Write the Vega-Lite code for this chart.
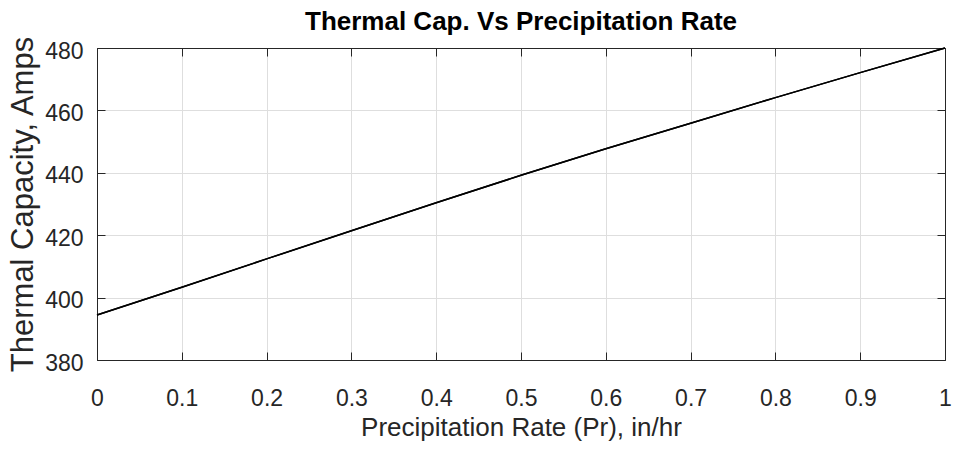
{
  "$schema": "https://vega.github.io/schema/vega-lite/v6.json",
  "width": 848,
  "height": 312,
  "autosize": {"type": "none"},
  "padding": {"left": 97, "top": 48, "right": 9, "bottom": 102},
  "background": "white",
  "title": {
    "text": "Thermal Cap. Vs Precipitation Rate",
    "font": "Liberation Sans, Arial",
    "fontSize": 26,
    "fontWeight": "bold",
    "color": "#000000",
    "anchor": "middle",
    "frame": "group",
    "offset": 0
  },
  "config": {
    "view": {"stroke": "#262626", "strokeWidth": 1},
    "axis": {
      "labelFont": "Liberation Sans, Arial",
      "labelFontSize": 23,
      "labelColor": "#262626",
      "titleFont": "Liberation Sans, Arial",
      "titleFontWeight": "normal",
      "titleColor": "#262626",
      "domainColor": "#262626",
      "domainWidth": 1,
      "tickColor": "#262626",
      "tickWidth": 1,
      "tickSize": -8,
      "gridColor": "#dedede",
      "gridWidth": 1
    }
  },
  "data": {
    "values": [
      {"rate": 0.0, "cap": 394.4},
      {"rate": 0.1, "cap": 403.3},
      {"rate": 0.2, "cap": 412.4},
      {"rate": 0.3, "cap": 421.4},
      {"rate": 0.4, "cap": 430.4},
      {"rate": 0.5, "cap": 439.2},
      {"rate": 0.6, "cap": 447.7},
      {"rate": 0.7, "cap": 455.9},
      {"rate": 0.8, "cap": 464.1},
      {"rate": 0.9, "cap": 472.1},
      {"rate": 1.0, "cap": 480.0}
    ]
  },
  "layer": [
    {
      "mark": {"type": "line", "color": "#000000", "strokeWidth": 1.5},
      "encoding": {
        "x": {
          "field": "rate", "type": "quantitative",
          "scale": {"domain": [0, 1], "nice": false},
          "axis": {
            "values": [0, 0.1, 0.2, 0.3, 0.4, 0.5, 0.6, 0.7, 0.8, 0.9, 1],
            "format": "~g",
            "title": "Precipitation Rate (Pr), in/hr",
            "titleFontSize": 26,
            "titlePadding": 4,
            "labelPadding": 35,
            "labelFlush": false,
            "labelOverlap": false
          }
        },
        "y": {
          "field": "cap", "type": "quantitative",
          "scale": {"domain": [380, 480], "nice": false, "zero": false},
          "axis": {
            "values": [380, 400, 420, 440, 460, 480],
            "title": "Thermal Capacity, Amps",
            "titleFontSize": 31,
            "titlePadding": 5,
            "labelPadding": 22,
            "labelOffset": 3,
            "labelFlush": false,
            "labelOverlap": false
          }
        }
      }
    },
    {
      "mark": {"type": "line", "color": "#000000", "strokeWidth": 1.5},
      "encoding": {
        "x": {
          "field": "rate", "type": "quantitative",
          "axis": {
            "orient": "top",
            "values": [0, 0.1, 0.2, 0.3, 0.4, 0.5, 0.6, 0.7, 0.8, 0.9, 1],
            "labels": false, "grid": false, "title": null
          }
        },
        "y": {
          "field": "cap", "type": "quantitative",
          "axis": {
            "orient": "right",
            "values": [380, 400, 420, 440, 460, 480],
            "labels": false, "grid": false, "title": null
          }
        }
      }
    }
  ],
  "resolve": {"axis": {"x": "independent", "y": "independent"}}
}
